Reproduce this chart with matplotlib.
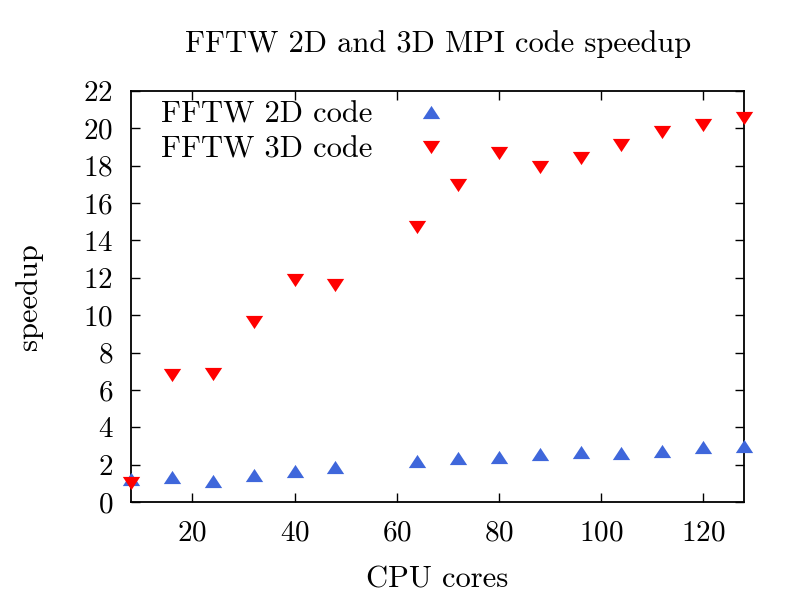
import matplotlib
matplotlib.use("Agg")
import matplotlib.pyplot as plt
from matplotlib.path import Path

cores = [8, 16, 24, 32, 40, 48, 64, 72, 80, 88, 96, 104, 112, 120, 128]
speedup_2d = [1.25, 1.34, 1.14, 1.43, 1.64, 1.88, 2.2, 2.36, 2.43, 2.57, 2.68, 2.61, 2.73, 2.93, 2.98]
speedup_3d = [1.0, 6.79, 6.86, 9.63, 11.86, 11.6, 14.7, 16.95, 18.66, 17.95, 18.43, 19.09, 19.8, 20.18, 20.57]
xticks = [20, 40, 60, 80, 100, 120]
yticks = list(range(0, 23, 2))

plt.rcParams['font.family'] = ['cmr10', 'DejaVu Serif']
plt.rcParams['mathtext.fontset'] = 'cm'
plt.rcParams['axes.formatter.use_mathtext'] = True

up_tri = Path([(-1, -0.76), (1, -0.76), (0, 0.76), (-1, -0.76)],
              [Path.MOVETO, Path.LINETO, Path.LINETO, Path.CLOSEPOLY])
down_tri = Path([(-1, 0.76), (1, 0.76), (0, -0.76), (-1, 0.76)],
                [Path.MOVETO, Path.LINETO, Path.LINETO, Path.CLOSEPOLY])

fig = plt.figure(figsize=(8, 6), dpi=100)
ax = fig.add_axes([0.164, 0.1633, 0.766, 0.685])

ax.plot(cores, speedup_2d, linestyle='none', marker=up_tri, markersize=12.5,
        markeredgewidth=0, color='#3f67db', label='FFTW 2D code', clip_on=False, zorder=3)
ax.plot(cores, speedup_3d, linestyle='none', marker=down_tri, markersize=12.5,
        markeredgewidth=0, color='#ff0000', label='FFTW 3D code', clip_on=False, zorder=3)

ax.set_xlim(8, 128)
ax.set_ylim(0, 22)
ax.set_xticks(xticks)
ax.set_yticks(yticks)
ax.tick_params(direction='in', length=6.5, width=1.0, top=True, right=True,
               labelsize=21)
ax.tick_params(axis='x', pad=13)
ax.tick_params(axis='y', pad=13)
for s in ax.spines.values():
    s.set_linewidth(1.3)

ax.set_title('FFTW 2D and 3D MPI code speedup', fontsize=22, pad=28)
ax.set_xlabel('CPU cores', fontsize=22, labelpad=14)
ax.set_ylabel('speedup', fontsize=22, labelpad=29)

leg = ax.legend(loc='upper left', bbox_to_anchor=(0.049, 0.976), frameon=False,
                markerfirst=False, fontsize=22, handletextpad=1.40,
                borderaxespad=0, borderpad=0, labelspacing=0.25, handlelength=1.0)

fig.savefig('out.png', dpi=100)
